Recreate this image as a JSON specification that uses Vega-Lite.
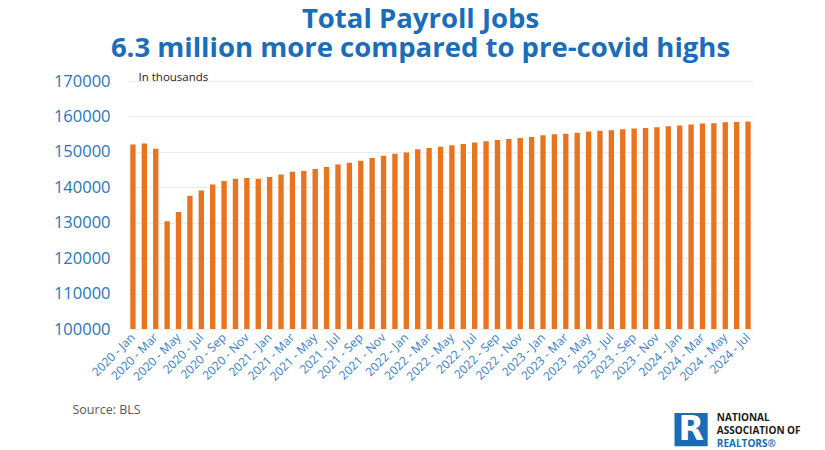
{
  "$schema": "https://vega.github.io/schema/vega-lite/v6.json",
  "autosize": {"type": "none"},
  "width": 625,
  "height": 248,
  "padding": {"left": 128, "top": 81, "right": 72, "bottom": 121},
  "background": "white",
  "title": {
    "text": ["Total Payroll Jobs", "6.3 million more compared to pre-covid highs"],
    "font": "Open Sans",
    "fontSize": 27.5,
    "fontWeight": "bold",
    "lineHeight": 29,
    "color": "#1a6db6",
    "anchor": "middle",
    "dx": -20,
    "offset": 9
  },
  "config": {
    "view": {"stroke": null},
    "numberFormat": "d",
    "axis": {"labelOverlap": false, "ticks": false, "tickSize": 0, "domain": false},
    "axisY": {
      "labelFont": "Open Sans",
      "labelFontSize": 16.5,
      "labelColor": "#2e75b6",
      "labelPadding": 18,
      "gridColor": "#ececec",
      "titleFont": "Open Sans",
      "titleFontSize": 11.5,
      "titleFontWeight": "normal",
      "titleColor": "#222222",
      "titleAngle": 0,
      "titleAlign": "left",
      "titleBaseline": "alphabetic",
      "titleX": 10,
      "titleY": -1
    },
    "axisX": {
      "labelAngle": -45,
      "labelAlign": "right",
      "labelBaseline": "middle",
      "labelFont": "Open Sans",
      "labelFontSize": 12,
      "labelColor": "#3a7dbf",
      "labelPadding": 6,
      "titleFont": "Open Sans",
      "titleFontSize": 12.5,
      "titleFontWeight": "normal",
      "titleColor": "#595959",
      "titleAlign": "left",
      "titleBaseline": "alphabetic",
      "titleAngle": 0,
      "titleX": -56,
      "titleY": 84
    }
  },
  "layer": [
    {
      "data": {"values": [
        {"month": "2020 - Jan", "jobs": 152104}, {"month": "2020 - Feb", "jobs": 152371}, {"month": "2020 - Mar", "jobs": 150909},
        {"month": "2020 - Apr", "jobs": 130421}, {"month": "2020 - May", "jobs": 133059}, {"month": "2020 - Jun", "jobs": 137628},
        {"month": "2020 - Jul", "jobs": 139077}, {"month": "2020 - Aug", "jobs": 140755}, {"month": "2020 - Sep", "jobs": 141745},
        {"month": "2020 - Oct", "jobs": 142427}, {"month": "2020 - Nov", "jobs": 142655}, {"month": "2020 - Dec", "jobs": 142387},
        {"month": "2021 - Jan", "jobs": 142922}, {"month": "2021 - Feb", "jobs": 143632}, {"month": "2021 - Mar", "jobs": 144393},
        {"month": "2021 - Apr", "jobs": 144618}, {"month": "2021 - May", "jobs": 145166}, {"month": "2021 - Jun", "jobs": 145744},
        {"month": "2021 - Jul", "jobs": 146439}, {"month": "2021 - Aug", "jobs": 146945}, {"month": "2021 - Sep", "jobs": 147476},
        {"month": "2021 - Oct", "jobs": 148277}, {"month": "2021 - Nov", "jobs": 148918}, {"month": "2021 - Dec", "jobs": 149477},
        {"month": "2022 - Jan", "jobs": 149814}, {"month": "2022 - Feb", "jobs": 150708}, {"month": "2022 - Mar", "jobs": 151120},
        {"month": "2022 - Apr", "jobs": 151414}, {"month": "2022 - May", "jobs": 151862}, {"month": "2022 - Jun", "jobs": 152209},
        {"month": "2022 - Jul", "jobs": 152618}, {"month": "2022 - Aug", "jobs": 152974}, {"month": "2022 - Sep", "jobs": 153324},
        {"month": "2022 - Oct", "jobs": 153645}, {"month": "2022 - Nov", "jobs": 153900}, {"month": "2022 - Dec", "jobs": 154190},
        {"month": "2023 - Jan", "jobs": 154676}, {"month": "2023 - Feb", "jobs": 154963}, {"month": "2023 - Mar", "jobs": 155119},
        {"month": "2023 - Apr", "jobs": 155412}, {"month": "2023 - May", "jobs": 155712}, {"month": "2023 - Jun", "jobs": 155940},
        {"month": "2023 - Jul", "jobs": 156124}, {"month": "2023 - Aug", "jobs": 156356}, {"month": "2023 - Sep", "jobs": 156602},
        {"month": "2023 - Oct", "jobs": 156767}, {"month": "2023 - Nov", "jobs": 156949}, {"month": "2023 - Dec", "jobs": 157239},
        {"month": "2024 - Jan", "jobs": 157452}, {"month": "2024 - Feb", "jobs": 157688}, {"month": "2024 - Mar", "jobs": 157998},
        {"month": "2024 - Apr", "jobs": 158106}, {"month": "2024 - May", "jobs": 158322}, {"month": "2024 - Jun", "jobs": 158440},
        {"month": "2024 - Jul", "jobs": 158554}
      ]},
      "mark": {"type": "bar", "color": "#e97420", "clip": true},
      "encoding": {
        "x": {
          "field": "month", "type": "nominal", "sort": null,
          "scale": {
            "domain": ["2020 - Jan","2020 - Feb","2020 - Mar","2020 - Apr","2020 - May","2020 - Jun","2020 - Jul","2020 - Aug","2020 - Sep","2020 - Oct","2020 - Nov","2020 - Dec",
                       "2021 - Jan","2021 - Feb","2021 - Mar","2021 - Apr","2021 - May","2021 - Jun","2021 - Jul","2021 - Aug","2021 - Sep","2021 - Oct","2021 - Nov","2021 - Dec",
                       "2022 - Jan","2022 - Feb","2022 - Mar","2022 - Apr","2022 - May","2022 - Jun","2022 - Jul","2022 - Aug","2022 - Sep","2022 - Oct","2022 - Nov","2022 - Dec",
                       "2023 - Jan","2023 - Feb","2023 - Mar","2023 - Apr","2023 - May","2023 - Jun","2023 - Jul","2023 - Aug","2023 - Sep","2023 - Oct","2023 - Nov","2023 - Dec",
                       "2024 - Jan","2024 - Feb","2024 - Mar","2024 - Apr","2024 - May","2024 - Jun","2024 - Jul"],
            "paddingInner": 0.53, "paddingOuter": 0.2
          },
          "axis": {
            "values": ["2020 - Jan","2020 - Mar","2020 - May","2020 - Jul","2020 - Sep","2020 - Nov","2021 - Jan","2021 - Mar","2021 - May","2021 - Jul","2021 - Sep","2021 - Nov","2022 - Jan","2022 - Mar","2022 - May","2022 - Jul","2022 - Sep","2022 - Nov","2023 - Jan","2023 - Mar","2023 - May","2023 - Jul","2023 - Sep","2023 - Nov","2024 - Jan","2024 - Mar","2024 - May","2024 - Jul"],
            "title": "Source: BLS"
          }
        },
        "y": {
          "field": "jobs", "type": "quantitative",
          "scale": {"domain": [100000, 170000], "zero": false, "nice": false},
          "axis": {"values": [100000, 110000, 120000, 130000, 140000, 150000, 160000, 170000], "title": "In thousands"}
        }
      }
    },
    {
      "data": {"values": [{}]},
      "mark": {"type": "point", "shape": "square", "filled": true, "size": 1100, "color": "#1b6cb4", "opacity": 1},
      "encoding": {
        "x": {"datum": "2024 - Feb", "axis": {"values": ["2020 - Jan","2020 - Mar","2020 - May","2020 - Jul","2020 - Sep","2020 - Nov","2021 - Jan","2021 - Mar","2021 - May","2021 - Jul","2021 - Sep","2021 - Nov","2022 - Jan","2022 - Mar","2022 - May","2022 - Jul","2022 - Sep","2022 - Nov","2023 - Jan","2023 - Mar","2023 - May","2023 - Jul","2023 - Sep","2023 - Nov","2024 - Jan","2024 - Mar","2024 - May","2024 - Jul"], "title": "Source: BLS"}},
        "y": {"datum": 71600, "axis": {"values": [100000, 110000, 120000, 130000, 140000, 150000, 160000, 170000], "title": "In thousands"}}
      }
    },
    {
      "data": {"values": [{}]},
      "mark": {"type": "text", "text": "R", "font": "DejaVu Sans", "fontWeight": "bold", "fontSize": 33, "color": "white", "align": "center", "baseline": "middle"},
      "encoding": {
        "x": {"datum": "2024 - Feb", "axis": {"values": ["2020 - Jan","2020 - Mar","2020 - May","2020 - Jul","2020 - Sep","2020 - Nov","2021 - Jan","2021 - Mar","2021 - May","2021 - Jul","2021 - Sep","2021 - Nov","2022 - Jan","2022 - Mar","2022 - May","2022 - Jul","2022 - Sep","2022 - Nov","2023 - Jan","2023 - Mar","2023 - May","2023 - Jul","2023 - Sep","2023 - Nov","2024 - Jan","2024 - Mar","2024 - May","2024 - Jul"], "title": "Source: BLS"}},
        "y": {"datum": 71600, "axis": {"values": [100000, 110000, 120000, 130000, 140000, 150000, 160000, 170000], "title": "In thousands"}}
      }
    },
    {
      "data": {"values": [{}]},
      "mark": {"type": "text", "text": "NATIONAL", "font": "Open Sans", "fontWeight": "bold", "fontSize": 10, "color": "#1a1a1a", "align": "left", "baseline": "alphabetic", "dx": 3},
      "encoding": {
        "x": {"datum": "2024 - Apr", "axis": {"values": ["2020 - Jan","2020 - Mar","2020 - May","2020 - Jul","2020 - Sep","2020 - Nov","2021 - Jan","2021 - Mar","2021 - May","2021 - Jul","2021 - Sep","2021 - Nov","2022 - Jan","2022 - Mar","2022 - May","2022 - Jul","2022 - Sep","2022 - Nov","2023 - Jan","2023 - Mar","2023 - May","2023 - Jul","2023 - Sep","2023 - Nov","2024 - Jan","2024 - Mar","2024 - May","2024 - Jul"], "title": "Source: BLS"}},
        "y": {"datum": 74000, "axis": {"values": [100000, 110000, 120000, 130000, 140000, 150000, 160000, 170000], "title": "In thousands"}}
      }
    },
    {
      "data": {"values": [{}]},
      "mark": {"type": "text", "text": "ASSOCIATION OF", "font": "Open Sans", "fontWeight": "bold", "fontSize": 10, "color": "#1a1a1a", "align": "left", "baseline": "alphabetic", "dx": 3},
      "encoding": {
        "x": {"datum": "2024 - Apr", "axis": {"values": ["2020 - Jan","2020 - Mar","2020 - May","2020 - Jul","2020 - Sep","2020 - Nov","2021 - Jan","2021 - Mar","2021 - May","2021 - Jul","2021 - Sep","2021 - Nov","2022 - Jan","2022 - Mar","2022 - May","2022 - Jul","2022 - Sep","2022 - Nov","2023 - Jan","2023 - Mar","2023 - May","2023 - Jul","2023 - Sep","2023 - Nov","2024 - Jan","2024 - Mar","2024 - May","2024 - Jul"], "title": "Source: BLS"}},
        "y": {"datum": 70400, "axis": {"values": [100000, 110000, 120000, 130000, 140000, 150000, 160000, 170000], "title": "In thousands"}}
      }
    },
    {
      "data": {"values": [{}]},
      "mark": {"type": "text", "text": "REALTORS®", "font": "Open Sans", "fontWeight": "bold", "fontSize": 10, "color": "#1b6cb4", "align": "left", "baseline": "alphabetic", "dx": 3},
      "encoding": {
        "x": {"datum": "2024 - Apr", "axis": {"values": ["2020 - Jan","2020 - Mar","2020 - May","2020 - Jul","2020 - Sep","2020 - Nov","2021 - Jan","2021 - Mar","2021 - May","2021 - Jul","2021 - Sep","2021 - Nov","2022 - Jan","2022 - Mar","2022 - May","2022 - Jul","2022 - Sep","2022 - Nov","2023 - Jan","2023 - Mar","2023 - May","2023 - Jul","2023 - Sep","2023 - Nov","2024 - Jan","2024 - Mar","2024 - May","2024 - Jul"], "title": "Source: BLS"}},
        "y": {"datum": 66800, "axis": {"values": [100000, 110000, 120000, 130000, 140000, 150000, 160000, 170000], "title": "In thousands"}}
      }
    }
  ]
}
